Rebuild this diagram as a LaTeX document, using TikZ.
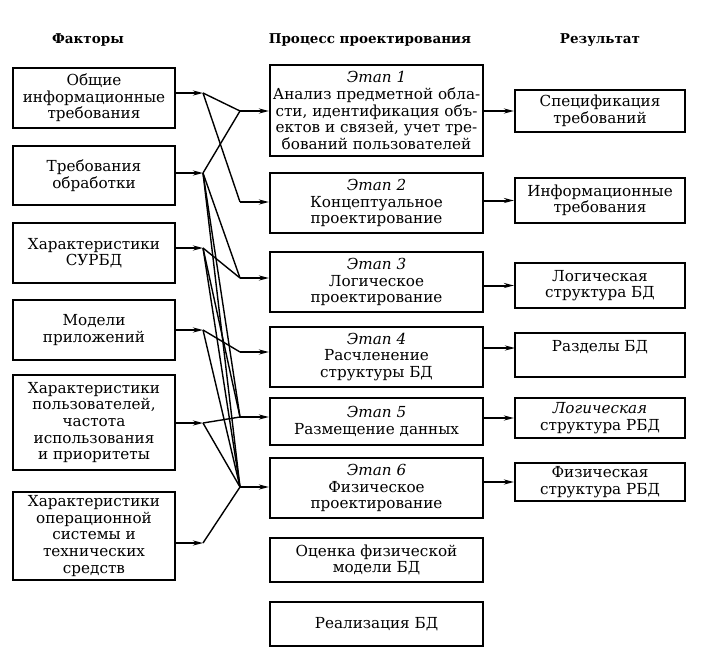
\documentclass[tikz,border=0pt]{standalone}
\usepackage{fontspec}
\setmainfont{DejaVu Serif}
\usetikzlibrary{arrows.meta}
\begin{document}
\begin{tikzpicture}[x=1pt,y=-1pt,
 box/.style={draw,line width=2.1pt,align=center,font=\fontsize{15.2}{16.6}\selectfont,inner sep=0pt},
 lbox/.style={box,minimum width=162pt},
 mbox/.style={box,minimum width=213pt},
 rbox/.style={box,minimum width=170pt},
 head/.style={font=\bfseries\fontsize{13.5}{16}\selectfont},
 arr/.style={line width=2pt,-{Stealth[length=10pt,width=5pt]}},
 link/.style={line width=1.4pt}]
\useasboundingbox (0,0) rectangle (709,653);
% headers
\node[head] (h1) at (88,40) {Факторы};
\node[head] (h2) at (370,40) {Процесс проектирования};
\node[head] (h3) at (600,40) {Результат};
% left boxes
\node[lbox,minimum height=60pt] (L1) at (94,98) {Общие\\информационные\\требования};
\node[lbox,minimum height=59pt] (L2) at (94,175.5) {Требования\\обработки};
\node[lbox,minimum height=60pt] (L3) at (94,253) {Характеристики\\СУРБД};
\node[lbox,minimum height=60pt] (L4) at (94,330) {Модели\\приложений};
\node[lbox,minimum height=95pt] (L5) at (94,422.5) {Характеристики\\пользователей,\\частота\\использования\\и приоритеты};
\node[lbox,minimum height=88pt] (L6) at (94,536) {Характеристики\\операционной\\системы и\\технических\\средств};
% middle boxes
\node[mbox,minimum height=91pt] (M1) at (376.5,110.5) {\textit{Этап 1}\\Анализ предметной обла-\\сти, идентификация объ-\\ектов и связей, учет тре-\\бований пользователей};
\node[mbox,minimum height=60pt] (M2) at (376.5,203) {\textit{Этап 2}\\Концептуальное\\проектирование};
\node[mbox,minimum height=60pt] (M3) at (376.5,282) {\textit{Этап 3}\\Логическое\\проектирование};
\node[mbox,minimum height=60pt] (M4) at (376.5,357) {\textit{Этап 4}\\Расчленение\\структуры БД};
\node[mbox,minimum height=47pt] (M5) at (376.5,421.5) {\textit{Этап 5}\\Размещение данных};
\node[mbox,minimum height=60pt] (M6) at (376.5,488) {\textit{Этап 6}\\Физическое\\проектирование};
\node[mbox,minimum height=44pt] (M7) at (376.5,560) {Оценка физической\\модели БД};
\node[mbox,minimum height=44pt] (M8) at (376.5,624) {Реализация БД};
% right boxes
\node[rbox,minimum height=42pt] (R1) at (600,111) {Спецификация\\требований};
\node[rbox,minimum height=45pt] (R2) at (600,200.5) {Информационные\\требования};
\node[rbox,minimum height=45pt] (R3) at (600,285.5) {Логическая\\структура БД};
\node[rbox,minimum height=44pt] (R4) at (600,355) {Разделы БД\\[2pt]\phantom{x}};
\node[rbox,minimum height=40pt] (R5) at (600,418) {\textit{Логическая}\\структура РБД};
\node[rbox,minimum height=38pt] (R6) at (600,482) {Физическая\\структура РБД};
% junctions
\coordinate (a1) at (203,93);
\coordinate (a2) at (203,173);
\coordinate (a3) at (203,248);
\coordinate (a4) at (203,330);
\coordinate (a5) at (203,423);
\coordinate (a6) at (203,543);
\coordinate (m1) at (240,111);
\coordinate (m2) at (240,202);
\coordinate (m3) at (240,278);
\coordinate (m4) at (240,352);
\coordinate (m5) at (240,417);
\coordinate (m6) at (240,487);
\coordinate (r4) at (515,348);
% arrows into junctions
\foreach \i in {1,...,6}{\draw[arr] (L\i.east |- a\i) -- (a\i);}
\foreach \i in {1,...,6}{\draw[arr] (m\i) -- (m\i -| M\i.west);}
% links
\draw[link] (a1) -- (m1);
\draw[link] (a1) -- (m2);
\draw[link] (a2) -- (m1);
\draw[link] (a2) -- (m3);
\draw[link] (a2) -- (m5);
\draw[link] (a2) -- (m6);
\draw[link] (a3) -- (m3);
\draw[link] (a3) -- (m5);
\draw[link] (a3) -- (m6);
\draw[link] (a4) -- (m4);
\draw[link] (a4) -- (m6);
\draw[link] (a5) -- (m5);
\draw[link] (a5) -- (m6);
\draw[link] (a6) -- (m6);
% outputs
\draw[arr] (M1.east |- R1.west) -- (R1.west);
\draw[arr] (M2.east |- R2.west) -- (R2.west);
\draw[arr] (M3.east |- R3.west) -- (R3.west);
\draw[arr] (M4.east |- r4) -- (r4);
\draw[arr] (M5.east |- R5.west) -- (R5.west);
\draw[arr] (M6.east |- R6.west) -- (R6.west);
\end{tikzpicture}
\end{document}
